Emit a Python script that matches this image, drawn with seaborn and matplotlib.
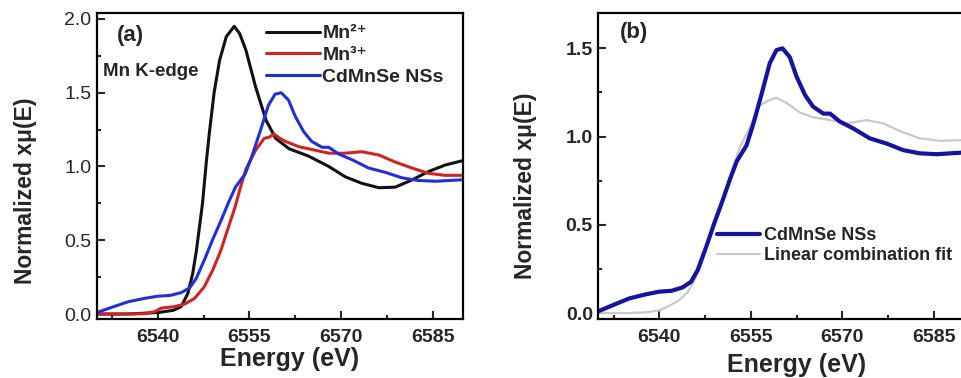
import numpy as np
import pandas as pd
import matplotlib
matplotlib.use("Agg")
import matplotlib.pyplot as plt
import seaborn as sns
from matplotlib.ticker import MultipleLocator

sns.set_style("ticks")
plt.rcParams["font.family"] = ["Liberation Sans", "DejaVu Sans"]

# ---------------- data ----------------
mn2_e = [6530, 6535, 6540, 6542.5, 6543.8, 6544.9, 6545.7, 6546.3, 6546.8, 6547.3,
         6547.9, 6548.4, 6549.2, 6550.1, 6551.2, 6552.5, 6553.4, 6554.4, 6556.0,
         6557.7, 6559.3, 6561.5, 6564.7, 6568.0, 6570.7, 6573.4, 6576.2, 6578.9,
         6581.6, 6584.3, 6587.1, 6590]
mn2_mu = [0.0, 0.0, 0.01, 0.025, 0.05, 0.14, 0.276, 0.43, 0.59, 0.75,
          1.02, 1.22, 1.50, 1.72, 1.88, 1.95, 1.90, 1.79, 1.54,
          1.315, 1.19, 1.12, 1.07, 1.0, 0.93, 0.886, 0.856, 0.86,
          0.908, 0.965, 1.01, 1.04]

mn3_e = [6530, 6535, 6537.8, 6539.5, 6540.5, 6542.7, 6544.4, 6546.0, 6547.6, 6549.0,
         6550.3, 6551.4, 6552.6, 6553.6, 6554.4, 6556.0, 6557.4, 6558.3, 6559.0,
         6560.0, 6560.9, 6563.1, 6565.8, 6568.0, 6570.7, 6573.4, 6576.2, 6578.9,
         6581.6, 6584.3, 6587.0, 6590]
mn3_mu = [0.0, 0.0, 0.002, 0.016, 0.04, 0.05, 0.068, 0.106, 0.185, 0.30,
          0.43, 0.57, 0.72, 0.87, 0.98, 1.11, 1.19, 1.20, 1.22,
          1.19, 1.17, 1.134, 1.11, 1.09, 1.09, 1.10, 1.078, 1.03,
          0.99, 0.954, 0.94, 0.94]

nss_e = [6530, 6532.4, 6535.1, 6537.8, 6540, 6542, 6543.8, 6545.2, 6546.3, 6547.7,
         6549.0, 6550.4, 6551.5, 6552.7, 6554.3, 6555.4, 6556.8, 6558.1, 6559.2,
         6560.2, 6561.4, 6562.5, 6563.9, 6565.2, 6566.9, 6568.0, 6569.6, 6571.8,
         6574.5, 6577.3, 6580.0, 6582.7, 6585.5, 6590]
nss_mu = [0.01, 0.045, 0.083, 0.106, 0.121, 0.126, 0.145, 0.177, 0.244, 0.376,
          0.508, 0.64, 0.75, 0.86, 0.95, 1.07, 1.245, 1.415, 1.49,
          1.50, 1.45, 1.34, 1.235, 1.17, 1.13, 1.13, 1.085, 1.046,
          0.99, 0.96, 0.923, 0.905, 0.90, 0.91]

fit_e = [6530, 6535.1, 6537.8, 6540, 6541.6, 6543.3, 6544.7, 6545.7, 6546.8, 6548.2,
         6549.6, 6550.9, 6552.0, 6553.2, 6554.9, 6556.2, 6557.6, 6559.2, 6560.9,
         6563.1, 6565.2, 6568.0, 6570.7, 6574.0, 6576.7, 6579.5, 6582.7, 6586.0, 6590]
fit_mu = [0.0, 0.0, 0.004, 0.015, 0.04, 0.074, 0.12, 0.18, 0.265, 0.416,
          0.548, 0.70, 0.82, 0.94, 1.055, 1.17, 1.20, 1.22, 1.19,
          1.135, 1.11, 1.093, 1.075, 1.093, 1.075, 1.03, 0.99, 0.976, 0.98]

labels_a = ["Mn²⁺", "Mn³⁺", "CdMnSe NSs"]
labels_b = ["CdMnSe NSs", "Linear combination fit"]
xticks = [6540, 6555, 6570, 6585]

# ---------------- figure ----------------
fig = plt.figure(figsize=(9.61, 3.78), dpi=100)
ax1 = fig.add_axes([0.1009, 0.156, 0.3809, 0.8095])
ax2 = fig.add_axes([0.6226, 0.156, 0.3808, 0.8095])

kw = dict(estimator=None, sort=False)
sns.lineplot(x=mn2_e, y=mn2_mu, ax=ax1, color="#111111", lw=2.2, label=labels_a[0], **kw)
sns.lineplot(x=mn3_e, y=mn3_mu, ax=ax1, color="#d42222", lw=2.2, label=labels_a[1], **kw)
sns.lineplot(x=nss_e, y=nss_mu, ax=ax1, color="#2030d8", lw=2.2, label=labels_a[2], **kw)

sns.lineplot(x=fit_e, y=fit_mu, ax=ax2, color="#c8c8c8", lw=1.6, label=labels_b[1], **kw)
sns.lineplot(x=nss_e, y=nss_mu, ax=ax2, color="#1414a0", lw=3.0, label=labels_b[0], **kw)

for ax in (ax1, ax2):
    ax.set_xlim(6530, 6590)
    ax.set_xticks(xticks)
    ax.xaxis.set_minor_locator(MultipleLocator(7.5))
    ax.yaxis.set_major_locator(MultipleLocator(0.5))
    ax.yaxis.set_minor_locator(MultipleLocator(0.25))
    ax.tick_params(which="both", direction="in", top=False, right=False, width=1.5)
    ax.tick_params(which="major", length=6)
    ax.tick_params(which="minor", length=3)
    ax.tick_params(axis="x", labelsize=14, pad=7)
    ax.tick_params(axis="y", labelsize=14, pad=4)
    for s in ax.spines.values():
        s.set_linewidth(1.6)
        s.set_color("black")
    for lab in ax.get_xticklabels() + ax.get_yticklabels():
        lab.set_fontweight("bold")
    ax.set_xlabel("Energy (eV)", fontsize=18, fontweight="bold")
    ax.set_ylabel("Normalized xμ(E)", fontsize=16.5, fontweight="bold")

ax1.set_ylim(-0.034, 2.04)
ax2.set_ylim(-0.034, 1.70)
for lab in ax1.get_yticklabels():
    lab.set_fontweight("normal")

ax1.yaxis.set_label_coords(-0.165, 0.42)
ax2.yaxis.set_label_coords(-0.168, 0.435)
ax1.xaxis.set_label_coords(0.525, -0.092)
ax2.xaxis.set_label_coords(0.543, -0.11)

ax1.text(0.055, 0.925, "(a)", transform=ax1.transAxes, fontsize=16, fontweight="bold",
         va="center", ha="left")
ax1.text(0.016, 0.81, "Mn K-edge", transform=ax1.transAxes, fontsize=13.5, fontweight="bold",
         va="center", ha="left")
ax2.text(0.06, 0.935, "(b)", transform=ax2.transAxes, fontsize=16, fontweight="bold",
         va="center", ha="left")

h, l = ax1.get_legend_handles_labels()
ax1.legend(h, l, loc="upper left", bbox_to_anchor=(0.43, 1.0), frameon=False,
           prop=dict(weight="bold", size=14), handlelength=2.8, handletextpad=0.1,
           labelspacing=0.22, borderaxespad=0.2)

h, l = ax2.get_legend_handles_labels()
order = [1, 0]
ax2.legend([h[i] for i in order], [l[i] for i in order], loc="upper left",
           bbox_to_anchor=(0.295, 0.335), frameon=False,
           prop=dict(weight="bold", size=13), handlelength=2.4, handletextpad=0.2,
           labelspacing=0.15, borderaxespad=0.2)

fig.savefig("out.png", dpi=100)
